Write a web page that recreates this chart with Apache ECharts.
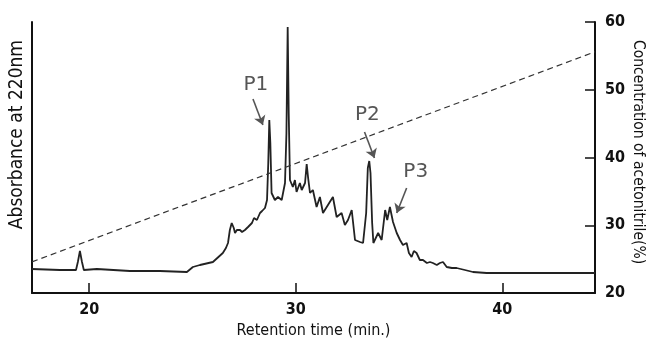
<!DOCTYPE html>
<html>
<head>
<meta charset="utf-8">
<script src="https://cdn.jsdelivr.net/npm/echarts@6/dist/echarts.min.js"></script>
<style>
  html, body { margin: 0; padding: 0; background: #fff; }
  #chart { width: 647px; height: 341px; }
</style>
</head>
<body>
<div id="chart"></div>
<script>
// retention time (min.) of the trace points
const times = [17.23, 18.58, 19.36, 19.45, 19.55, 19.65, 19.74, 20.37, 21.97, 23.42,
  24.73, 25.02, 25.36, 25.99, 26.47, 26.62, 26.72, 26.81, 26.90, 27.00,
  27.06, 27.15, 27.30, 27.40, 27.54, 27.69, 27.78, 27.88, 27.98, 28.03,
  28.12, 28.27, 28.37, 28.51, 28.61, 28.67, 28.72, 28.77, 28.83, 28.99,
  29.14, 29.32, 29.48, 29.55, 29.61, 29.66, 29.72, 29.86, 29.96, 30.04,
  30.20, 30.29, 30.45, 30.53, 30.60, 30.69, 30.83, 31.01, 31.17, 31.32,
  31.56, 31.80, 31.98, 32.22, 32.38, 32.53, 32.71, 32.87, 33.11, 33.26,
  33.41, 33.49, 33.56, 33.62, 33.70, 33.76, 33.99, 34.16, 34.33, 34.43,
  34.56, 34.71, 34.89, 35.05, 35.19, 35.37, 35.48, 35.61, 35.72, 35.85,
  36.01, 36.16, 36.35, 36.50, 36.64, 36.83, 36.98, 37.13, 37.31, 37.56,
  37.79, 38.19, 38.58, 39.24, 39.89, 41.83, 44.49]
// absorbance at 220nm (arbitrary units)
const absorbance = [24, 23, 23, 31, 42, 31, 23, 24, 22, 22,
  21, 26, 28, 31, 40, 45, 50, 63, 70, 65,
  60, 63, 63, 61, 63, 66, 64, 70, 75, 76,
  73, 80, 82, 85, 93, 130, 173, 150, 100, 93,
  96, 93, 110, 160, 266, 180, 113, 106, 113, 101,
  110, 103, 110, 129, 115, 100, 103, 86, 96, 80,
  88, 96, 76, 80, 68, 73, 83, 53, 51, 50,
  80, 125, 132, 120, 70, 50, 60, 53, 83, 73,
  86, 71, 60, 53, 48, 50, 40, 36, 42, 40,
  33, 33, 30, 31, 30, 28, 30, 31, 26, 25,
  25, 23, 21, 20, 20, 20, 20]
// acetonitrile gradient (%)
const gradientTimes = [17.23, 44.49]
const gradientConc = [24.6, 55.6]
const xTicks = [20, 30, 40]

// peak labels: text position, arrow start, arrow end  [time, absorbance]
const peakNames = ['P1', 'P2', 'P3']
const peakText = [[28.07, 208], [33.47, 178], [35.81, 121]]
const arrowFrom = [[27.93, 194], [33.33, 161], [35.37, 105]]
const arrowTo = [[28.41, 168], [33.81, 135], [34.89, 80]]

const narrow = "'Liberation Sans Narrow', 'DejaVu Sans Condensed', Arial, sans-serif"

const chart = echarts.init(document.getElementById('chart'), null, { renderer: 'canvas' })

const option = {
  animation: false,
  grid: { left: 32, right: 52, top: 22, bottom: 48, containLabel: false, outerBoundsMode: 'none' },
  xAxis: {
    type: 'value',
    min: 17.23,
    max: 44.49,
    name: 'Retention time (min.)',
    nameLocation: 'middle',
    nameGap: 27,
    nameTextStyle: { fontFamily: narrow, fontSize: 16, color: '#111' },
    axisLine: { lineStyle: { color: '#111', width: 2 } },
    axisTick: { inside: true, length: 10, customValues: xTicks, lineStyle: { color: '#111', width: 1.5 } },
    axisLabel: { customValues: xTicks, fontFamily: narrow, fontWeight: 'bold', fontSize: 16, color: '#111', margin: 9 },
    splitLine: { show: false }
  },
  yAxis: [
    {
      type: 'value',
      min: 0,
      max: 271,
      axisLine: { show: true, lineStyle: { color: '#111', width: 2 } },
      axisTick: { show: false },
      axisLabel: { show: false },
      splitLine: { show: false }
    },
    {
      type: 'value',
      position: 'right',
      min: 20,
      max: 60,
      interval: 10,
      axisLine: { show: true, lineStyle: { color: '#111', width: 2 } },
      axisTick: { inside: true, length: 10, lineStyle: { color: '#111', width: 1.5 } },
      axisLabel: { fontFamily: narrow, fontWeight: 'bold', fontSize: 16, color: '#111', margin: 10 },
      splitLine: { show: false }
    }
  ],
  graphic: [
    {
      type: 'text',
      left: 8,
      top: 40,
      rotation: Math.PI / 2,
      style: {
        text: 'Absorbance at 220nm',
        font: '19px ' + narrow,
        fill: '#111'
      }
    },
    {
      type: 'text',
      left: 630,
      top: 40,
      rotation: -Math.PI / 2,
      style: {
        text: 'Concentration of acetonitrile(%)',
        font: '15.5px ' + narrow,
        fill: '#111'
      }
    }
  ],
  series: [
    {
      name: 'Absorbance',
      type: 'line',
      yAxisIndex: 0,
      showSymbol: false,
      smooth: false,
      data: times.map((t, i) => [t, absorbance[i]]),
      lineStyle: { color: '#222', width: 1.8 },
      markLine: {
        silent: true,
        symbol: ['none', 'arrow'],
        symbolSize: 9,
        label: { show: false },
        lineStyle: { color: '#555', width: 1.6, type: 'solid' },
        data: arrowFrom.map((p, i) => [{ coord: p }, { coord: arrowTo[i] }])
      },
      markPoint: {
        silent: true,
        symbol: 'circle',
        symbolSize: 0,
        label: {
          show: true,
          position: 'inside',
          fontFamily: "'DejaVu Sans', sans-serif",
          fontSize: 20,
          color: '#555',
          formatter: p => p.name
        },
        data: peakNames.map((n, i) => ({ name: n, coord: peakText[i] }))
      }
    },
    {
      name: 'Acetonitrile',
      type: 'line',
      yAxisIndex: 1,
      showSymbol: false,
      data: gradientTimes.map((t, i) => [t, gradientConc[i]]),
      lineStyle: { color: '#333', width: 1.2, type: [6, 4] }
    }
  ]
}

chart.setOption(option)
</script>
</body>
</html>
